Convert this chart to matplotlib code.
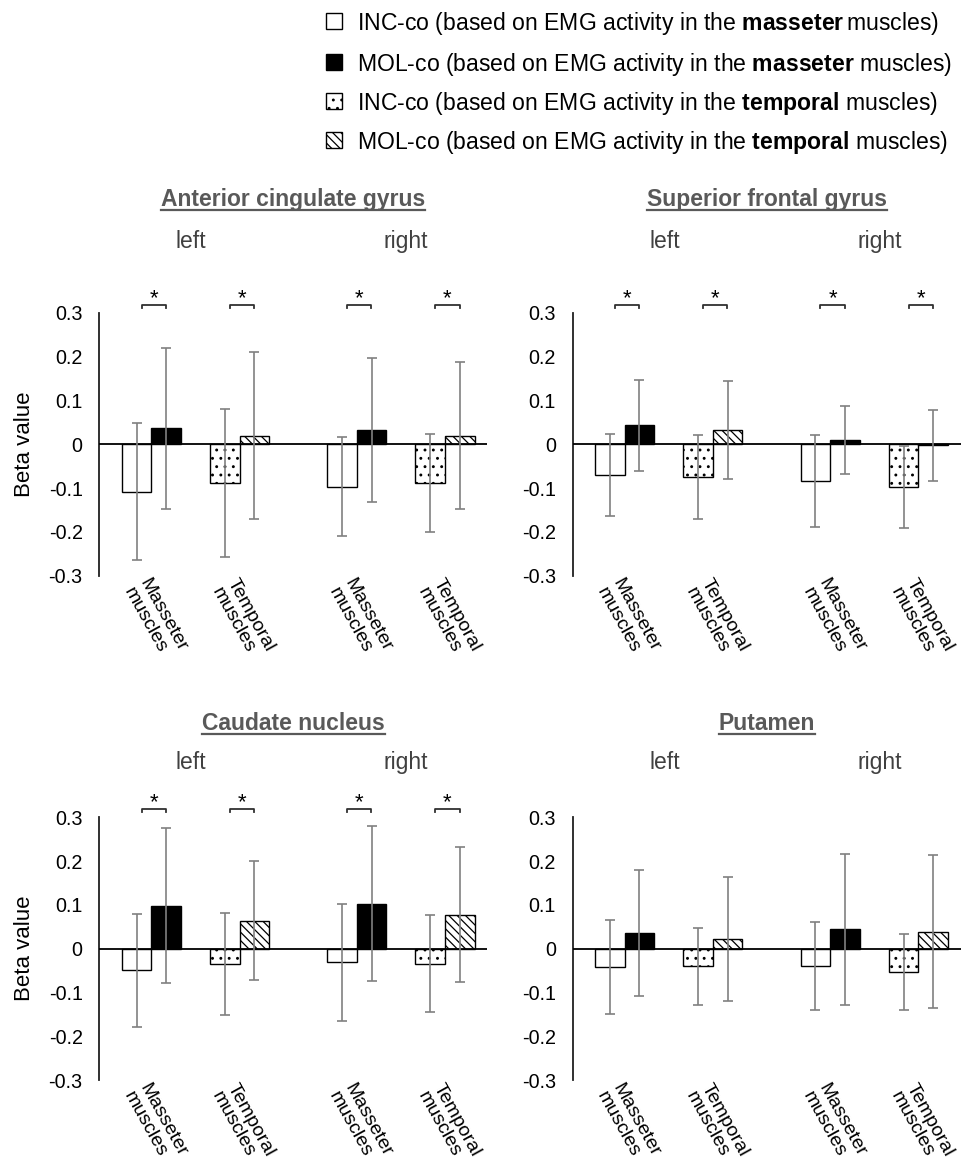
import matplotlib
matplotlib.use("Agg")
import matplotlib.pyplot as plt
from matplotlib.transforms import blended_transform_factory
from matplotlib.lines import Line2D
from matplotlib.patches import Rectangle

plt.rcParams['font.family'] = ['Liberation Sans', 'DejaVu Sans']
plt.rcParams['mathtext.fontset'] = 'custom'
plt.rcParams['mathtext.rm'] = 'Liberation Sans'
plt.rcParams['mathtext.bf'] = 'Liberation Sans:bold'
plt.rcParams['hatch.linewidth'] = 0.9

# ---------------- data ----------------
regions = ["Anterior cingulate gyrus", "Superior frontal gyrus", "Caudate nucleus", "Putamen"]
categories = ["Masseter\nmuscles", "Temporal\nmuscles", "Masseter\nmuscles", "Temporal\nmuscles"]
sides = ["left", "right"]
yticks = [-0.3, -0.2, -0.1, 0, 0.1, 0.2, 0.3]
ytick_labels = ["-0.3", "-0.2", "-0.1", "0", "0.1", "0.2", "0.3"]
series_labels = [
    r"INC-co (based on EMG activity in the $\mathbf{masseter}\,$muscles)",
    r"MOL-co (based on EMG activity in the $\mathbf{masseter}$ muscles)",
    r"INC-co (based on EMG activity in the $\mathbf{temporal}$ muscles)",
    r"MOL-co (based on EMG activity in the $\mathbf{temporal}$ muscles)",
]

# order within each region: left masseter, left temporal, right masseter, right temporal
acg_inc = [-0.108, -0.088, -0.097, -0.088]
acg_inc_err = [0.156, 0.169, 0.113, 0.112]
acg_mol = [0.037, 0.020, 0.033, 0.020]
acg_mol_err = [0.184, 0.190, 0.164, 0.168]

sfg_inc = [-0.070, -0.074, -0.084, -0.098]
sfg_inc_err = [0.093, 0.096, 0.106, 0.093]
sfg_mol = [0.044, 0.032, 0.010, -0.002]
sfg_mol_err = [0.104, 0.112, 0.078, 0.081]

cn_inc = [-0.049, -0.035, -0.031, -0.034]
cn_inc_err = [0.129, 0.117, 0.133, 0.110]
cn_mol = [0.098, 0.064, 0.103, 0.078]
cn_mol_err = [0.177, 0.136, 0.177, 0.155]

put_inc = [-0.042, -0.040, -0.040, -0.053]
put_inc_err = [0.108, 0.088, 0.100, 0.087]
put_mol = [0.036, 0.022, 0.044, 0.039]
put_mol_err = [0.143, 0.141, 0.172, 0.174]

significant = [True, True, True, False]

inc_means = [acg_inc, sfg_inc, cn_inc, put_inc]
inc_errs = [acg_inc_err, sfg_inc_err, cn_inc_err, put_inc_err]
mol_means = [acg_mol, sfg_mol, cn_mol, put_mol]
mol_errs = [acg_mol_err, sfg_mol_err, cn_mol_err, put_mol_err]

# ---------------- layout / style ----------------
W, H = 961, 1167
fig = plt.figure(figsize=(W / 100, H / 100), dpi=100)

def fx(px):
    return px / W

def fy(py):
    return 1 - py / H

positions = [0.59, 1.59, 2.92, 3.92]
side_pos = [1.04, 3.48]
bw = 0.335
# (left, top, right, bottom) in pixels
rects = [(99.3, 313, 487.3, 575.5), (572.7, 313, 960.7, 575.5),
         (99.3, 817.2, 487.3, 1080.2), (572.7, 817.2, 960.7, 1080.2)]
title_base = [206, 206, 730, 730]
side_base = [248, 248, 769, 769]

inc_style = [dict(facecolor='white', hatch=None), dict(facecolor='white', hatch='..'),
             dict(facecolor='white', hatch=None), dict(facecolor='white', hatch='..')]
mol_style = [dict(facecolor='black', hatch=None), dict(facecolor='white', hatch='\\\\\\\\'),
             dict(facecolor='black', hatch=None), dict(facecolor='white', hatch='\\\\\\\\')]

title_color = '#595959'
err_color = '#808080'
titles = []

for k in range(4):
    l, t, r, b = rects[k]
    ax = fig.add_axes([fx(l), fy(b), (r - l) / W, (b - t) / H])
    ax.set_xlim(0, 4.4)
    ax.set_ylim(-0.3, 0.3)
    for i in range(4):
        x = positions[i]
        ax.bar(x - bw / 2, inc_means[k][i], bw, edgecolor='black', linewidth=1.0,
               zorder=2, **inc_style[i])
        ax.bar(x + bw / 2, mol_means[k][i], bw, edgecolor='black', linewidth=1.0,
               zorder=2, **mol_style[i])
        ax.errorbar([x - bw / 2, x + bw / 2], [inc_means[k][i], mol_means[k][i]],
                    yerr=[inc_errs[k][i], mol_errs[k][i]], fmt='none', ecolor=err_color,
                    elinewidth=1.2, capsize=3.5, capthick=1.2, zorder=4)
        ax.text(x - 0.01, -0.301, categories[i], rotation=-61, ha='left', va='top',
                rotation_mode='anchor', fontsize=14, linespacing=1.05, color='black')
        if significant[k]:
            x0, x1 = x - 0.11, x + 0.165
            ax.plot([x0, x0, x1, x1], [0.311, 0.319, 0.319, 0.311], color='#303030',
                    lw=1.3, clip_on=False, zorder=5)
            ax.text((x0 + x1) / 2, 0.3195, '*', ha='center', va='baseline',
                    fontsize=16, color='black', clip_on=False)
    ax.axhline(0, color='black', lw=1.3, zorder=3)
    for s in ['top', 'right', 'bottom']:
        ax.spines[s].set_visible(False)
    ax.spines['left'].set_linewidth(1.3)
    ax.spines['left'].set_color('#202020')
    ax.set_xticks([])
    ax.set_yticks(yticks)
    ax.set_yticklabels(ytick_labels, fontsize=14.2)
    ax.tick_params(axis='y', length=0, pad=12)

    tr = blended_transform_factory(ax.transData, fig.transFigure)
    for j, sname in enumerate(sides):
        ax.text(side_pos[j], fy(side_base[k]), sname, transform=tr, ha='center',
                va='baseline', fontsize=16.5, color='#404040')
    tt = fig.text(fx((l + r) / 2), fy(title_base[k]), regions[k], ha='center',
                  va='baseline', fontsize=16.5, fontweight='bold', color=title_color)
    titles.append((tt, title_base[k]))

    if k % 2 == 0:
        fig.text(fx(25), fy((t + b) / 2), 'Beta value', rotation=90, ha='center',
                 va='center', fontsize=16, color='black')

# legend
leg_rows = [30, 71, 110, 149]
leg_styles = [inc_style[0], mol_style[0], inc_style[1], mol_style[1]]
for i in range(4):
    st = leg_styles[i]
    fig.add_artist(Rectangle((fx(326), fy(leg_rows[i] - 1)), 16 / W, 16 / H,
                             transform=fig.transFigure, edgecolor='black', linewidth=1.0,
                             facecolor=st['facecolor'], hatch=st['hatch']))
    fig.text(fx(357), fy(leg_rows[i]), series_labels[i], ha='left', va='baseline',
             fontsize=16.6, color='black')

# title underlines
fig.canvas.draw()
renderer = fig.canvas.get_renderer()
for tt, base in titles:
    bb = tt.get_window_extent(renderer)
    fig.add_artist(Line2D([bb.x0 / W, bb.x1 / W], [fy(base + 3.5)] * 2,
                          transform=fig.transFigure, color=title_color, lw=1.6))

fig.savefig('out.png', dpi=100)
